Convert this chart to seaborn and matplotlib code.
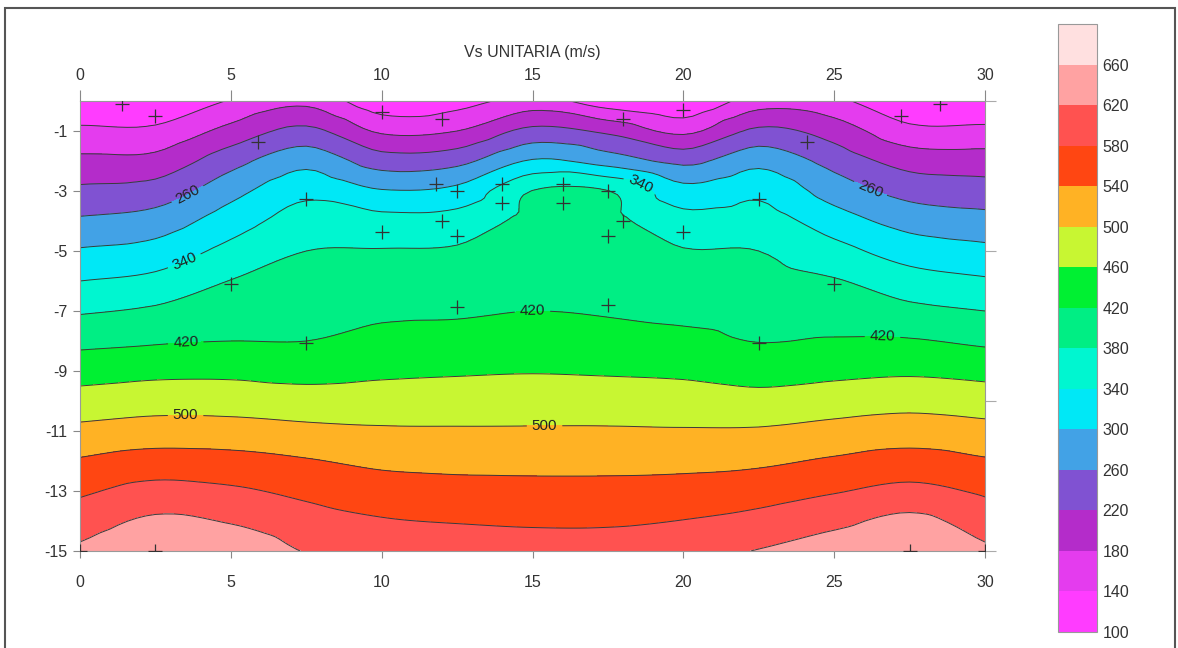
import numpy as np
import matplotlib
matplotlib.use("Agg")
import matplotlib.pyplot as plt
import matplotlib.tri as mtri
from matplotlib.colors import ListedColormap, BoundaryNorm
from matplotlib.cm import ScalarMappable
from matplotlib.patches import Rectangle
import seaborn as sns

# Section geometry (m)
x_pos = [0, 2.5, 5, 7.5, 10, 12.5, 15, 17.5, 20, 22.5, 25, 27.5, 30]
depth = [0, -1, -2, -3, -4, -5, -6, -7, -8, -9, -10, -11, -12, -13, -14, -15]

# Vs (m/s) read at each node, one row per depth, columns follow x_pos
vs_grid = [
    [106, 104, 143, 169, 112, 123, 156, 115, 100, 160, 150, 102, 100],
    [148, 149, 193, 230, 174, 180, 231, 212, 171, 228, 202, 152, 151],
    [190, 193, 245, 287, 240, 248, 304, 283, 250, 288, 245, 204, 199],
    [228, 237, 286, 329, 303, 311, 381, 381, 314, 330, 282, 246, 237],
    [266, 278, 321, 357, 353, 357, 391, 390, 355, 358, 319, 285, 274],
    [304, 315, 352, 380, 382, 384, 401, 399, 382, 380, 353, 322, 310],
    [340, 351, 381, 394, 398, 400, 410, 408, 397, 393, 383, 357, 345],
    [376, 386, 400, 407, 413, 415, 420, 417, 411, 406, 402, 390, 380],
    [410, 416, 420, 420, 432, 435, 439, 434, 430, 419, 423, 423, 413],
    [443, 450, 451, 447, 453, 456, 458, 456, 453, 445, 450, 454, 448],
    [477, 483, 482, 477, 478, 479, 481, 480, 478, 473, 481, 487, 481],
    [510, 518, 517, 510, 505, 504, 504, 504, 503, 504, 513, 520, 513],
    [544, 556, 553, 543, 532, 529, 528, 528, 529, 533, 545, 555, 544],
    [574, 593, 586, 571, 558, 553, 552, 552, 555, 563, 577, 591, 574],
    [601, 627, 617, 596, 583, 578, 575, 575, 581, 592, 610, 630, 601],
    [628, 655, 648, 618, 605, 600, 598, 599, 605, 622, 643, 656, 628],
]

# measurement points
pt_x = [1.4, 2.5, 5.9, 10.0, 12.0, 18.0, 20.0, 24.1, 27.2, 28.5,
        7.5, 11.8, 12.5, 14.0, 14.0, 16.0, 16.0, 17.5, 18.0, 17.5,
        12.0, 12.5, 10.0, 20.0, 22.5, 5.0, 25.0, 12.5, 17.5, 7.5, 22.5,
        0.0, 2.5, 27.5, 30.0]
pt_y = [-0.1, -0.5, -1.35, -0.35, -0.6, -0.6, -0.3, -1.35, -0.5, -0.1,
        -3.25, -2.75, -3.0, -2.75, -3.4, -2.75, -3.4, -3.0, -4.0, -4.5,
        -4.0, -4.5, -4.35, -4.35, -3.25, -6.1, -6.1, -6.85, -6.8, -8.05, -8.05,
        -15, -15, -15, -15]

bounds = list(range(100, 701, 40))
band_colors = ["#ff3cff", "#e43cee", "#b42cca", "#8052d2", "#42a2e6",
               "#00e8f6", "#00f6d0", "#00ee84", "#00f032", "#c8f632",
               "#ffb224", "#ff4612", "#ff5250", "#ffa2a2", "#ffe0e0"]
labelled = [260, 340, 420, 500]
unlabelled = [v for v in bounds[1:-1] if v not in labelled]

sns.set_theme(style="white")
plt.rcParams["font.family"] = ["Liberation Sans", "DejaVu Sans"]
plt.rcParams["axes.unicode_minus"] = False

cmap = ListedColormap(band_colors)
cmap.set_under(band_colors[0])
cmap.set_over(band_colors[-1])
norm = BoundaryNorm(bounds, cmap.N)

X, Y = np.meshgrid(x_pos, depth)
Z = np.array(vs_grid, dtype=float)
tri = mtri.Triangulation(X.ravel(), Y.ravel())
interp = mtri.CubicTriInterpolator(tri, Z.ravel(), kind="geom")
tri_f, z_f = mtri.UniformTriRefiner(tri).refine_field(Z.ravel(), triinterpolator=interp, subdiv=3)

W, H = 1178, 648
fig = plt.figure(figsize=(W / 100, H / 100), dpi=100)
ax = fig.add_axes([80 / W, (H - 551) / H, 905 / W, 450 / H])

ax.tricontourf(tri_f, z_f, levels=bounds, cmap=cmap, norm=norm, extend="both")
ax.tricontour(tri_f, z_f, levels=unlabelled, colors="#3a3a3a", linewidths=0.7)
cs = ax.tricontour(tri_f, z_f, levels=labelled, colors="#3a3a3a", linewidths=0.7)
label_pos = [(3.4, -2.8), (26.3, -2.7), (3.4, -5.2), (18.5, -2.9),
             (3.5, -7.95), (15.0, -7.05), (26.6, -7.95), (3.5, -10.45), (15.4, -10.9)]
ax.clabel(cs, manual=label_pos, inline=True, fmt="%d", fontsize=11, colors="#222222")

sns.scatterplot(x=pt_x, y=pt_y, marker="+", s=110, color="#333333",
                linewidth=0.9, ax=ax, legend=False, zorder=5)

ax.set_xlim(0, 30)
ax.set_ylim(-15, 0)
ax.set_xticks(range(0, 31, 5))
ax.set_yticks(range(-1, -16, -2))
ax.tick_params(axis="x", bottom=True, length=5, width=0.8, pad=12,
               labelsize=11.5, colors="#888888", labelcolor="#333333")
ax.tick_params(axis="y", left=True, length=5, width=0.8, pad=4,
               labelsize=11.5, colors="#888888", labelcolor="#333333")
for s in ax.spines.values():
    s.set_color("#999999")
    s.set_linewidth(0.8)

top = ax.secondary_xaxis("top")
top.set_xticks(range(0, 31, 5))
top.tick_params(length=8, width=0.8, pad=5, labelsize=11.5,
                colors="#888888", labelcolor="#333333")
top.spines["top"].set_visible(False)
top.set_xlabel("Vs UNITARIA (m/s)", fontsize=11.5, color="#333333", labelpad=8)

right = ax.secondary_yaxis("right")
right.set_yticks([0, -5, -10, -15])
right.tick_params(length=8, width=0.8, labelright=False, colors="#aaaaaa")
right.spines["right"].set_visible(False)

cax = fig.add_axes([1058 / W, (H - 632) / H, 39 / W, 608 / H])
cb = fig.colorbar(ScalarMappable(norm=norm, cmap=cmap), cax=cax)
cb.set_ticks(bounds[:-1])
cb.ax.minorticks_off()
cb.ax.tick_params(length=0, pad=4, labelsize=11.5, labelcolor="#333333")
cb.outline.set_edgecolor("#999999")
cb.outline.set_linewidth(0.8)

fig.patches.append(Rectangle((5 / W, -0.01), 1170 / W, (H - 8) / H + 0.01,
                             transform=fig.transFigure, fill=False,
                             edgecolor="#555555", linewidth=1.5))

fig.savefig("out.png", dpi=100)
